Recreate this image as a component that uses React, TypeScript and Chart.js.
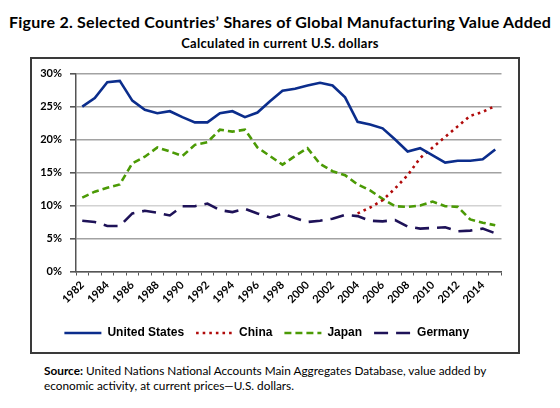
import React, { useEffect, useRef } from "react";
import { Chart, registerables } from "chart.js";

Chart.register(...registerables);

const years: string[] = [
  "1982","1983","1984","1985","1986","1987","1988","1989","1990","1991",
  "1992","1993","1994","1995","1996","1997","1998","1999","2000","2001",
  "2002","2003","2004","2005","2006","2007","2008","2009","2010","2011",
  "2012","2013","2014","2015",
];

const unitedStates: number[] = [
  25.0, 26.3, 28.7, 28.9, 25.9, 24.5, 24.0, 24.3, 23.4, 22.6,
  22.6, 24.0, 24.3, 23.4, 24.1, 25.8, 27.4, 27.7, 28.2, 28.6,
  28.2, 26.4, 22.7, 22.3, 21.7, 20.0, 18.2, 18.7, 17.6, 16.5,
  16.8, 16.8, 17.0, 18.5,
];

const china: (number | null)[] = [
  null, null, null, null, null, null, null, null, null, null,
  null, null, null, null, null, null, null, null, null, null,
  null, null, 8.8, 9.7, 10.8, 12.6, 14.6, 17.2, 18.8, 20.4,
  22.0, 23.6, 24.2, 25.1,
];

const japan: number[] = [
  11.2, 12.1, 12.7, 13.2, 16.4, 17.4, 18.8, 18.2, 17.5, 19.2,
  19.6, 21.5, 21.2, 21.5, 18.8, 17.5, 16.2, 17.5, 18.7, 16.3,
  15.2, 14.6, 13.2, 12.3, 11.0, 9.9, 9.8, 10.0, 10.6, 9.9,
  9.8, 7.9, 7.4, 7.0,
];

const germany: number[] = [
  7.7, 7.5, 6.9, 6.9, 8.8, 9.2, 8.9, 8.5, 9.9, 9.9,
  10.3, 9.3, 9.0, 9.5, 8.8, 8.2, 8.8, 8.1, 7.5, 7.7,
  8.0, 8.6, 8.4, 7.7, 7.6, 7.8, 6.8, 6.5, 6.6, 6.7,
  6.1, 6.2, 6.5, 5.8,
];

const yTicks: number[] = [0, 5, 10, 15, 20, 25, 30];

const title = "Figure 2. Selected Countries\u2019 Shares of Global Manufacturing Value Added";
const subtitle = "Calculated in current U.S. dollars";
const sourceLabel = "Source:";
const sourceText =
  " United Nations National Accounts Main Aggregates Database, value added by economic activity, at current prices\u2014U.S. dollars.";

export default function App() {
  const canvasRef = useRef<HTMLCanvasElement | null>(null);

  useEffect(() => {
    if (!canvasRef.current) return;
    const chart = new Chart(canvasRef.current, {
      type: "line",
      data: {
        labels: years,
        datasets: [
          {
            label: "United States",
            data: unitedStates,
            borderColor: "#0b2d8c",
            backgroundColor: "#0b2d8c",
            borderWidth: 2.6,
            pointRadius: 0,
            tension: 0,
          },
          {
            label: "China",
            data: china,
            borderColor: "#b00a0a",
            backgroundColor: "#b00a0a",
            borderWidth: 2.6,
            borderDash: [2.6, 4],
            pointRadius: 0,
            tension: 0,
            spanGaps: false,
          },
          {
            label: "Japan",
            data: japan,
            borderColor: "#4b9a05",
            backgroundColor: "#4b9a05",
            borderWidth: 2.6,
            borderDash: [7, 4],
            pointRadius: 0,
            tension: 0,
          },
          {
            label: "Germany",
            data: germany,
            borderColor: "#1e1258",
            backgroundColor: "#1e1258",
            borderWidth: 2.6,
            borderDash: [14, 8],
            pointRadius: 0,
            tension: 0,
          },
        ],
      },
      options: {
        animation: false,
        responsive: false,
        maintainAspectRatio: false,
        layout: { padding: { left: 0, top: 12, right: 16.5, bottom: 3 } },
        plugins: {
          title: { display: false },
          tooltip: { enabled: false },
          legend: {
            display: true,
            position: "bottom",
            labels: {
              usePointStyle: true,
              pointStyle: "line",
              pointStyleWidth: 37,
              padding: 12,
              color: "#000",
              font: { family: "'Liberation Sans', Arial, sans-serif", size: 12, weight: "bold" },
              generateLabels: (c: any) => {
                const items = (Chart as any).defaults.plugins.legend.labels.generateLabels(c);
                items.forEach((it: any) => {
                  const ds: any = c.data.datasets[it.datasetIndex];
                  it.lineDash = ds.borderDash || [];
                  it.lineWidth = ds.borderWidth;
                  it.strokeStyle = ds.borderColor;
                  it.fillStyle = ds.borderColor;
                  it.pointStyle = "line";
                });
                return items;
              },
            },
          },
        },
        scales: {
          x: {
            type: "category",
            offset: true,
            afterFit: (s: any) => {
              s.height = 43.5;
            },
            grid: {
              offset: true,
              drawOnChartArea: false,
              drawTicks: true,
              tickLength: 4,
              color: "#555",
              tickColor: "#555",
            },
            border: { display: true, color: "#555", width: 1.5 },
            ticks: {
              autoSkip: false,
              minRotation: 45,
              maxRotation: 45,
              padding: 3,
              color: "#000",
              font: { family: "Lato, sans-serif", size: 11, weight: "bold" },
              callback: (_v: any, i: number) => (i % 2 === 0 ? years[i] : ""),
            },
          },
          y: {
            min: 0,
            max: 30,
            afterFit: (s: any) => {
              s.width = 44;
            },
            afterBuildTicks: (s: any) => {
              s.ticks = yTicks.map((v) => ({ value: v }));
            },
            grid: {
              drawTicks: true,
              tickLength: 6,
              lineWidth: 1.6,
              color: (ctx: any) => (ctx.tick && ctx.tick.value === 10 ? "#d2d2d2" : "#a2a2a2"),
              tickColor: "#555",
            },
            border: { display: true, color: "#555", width: 1.5 },
            ticks: {
              padding: 8,
              color: "#000",
              font: { family: "Lato, sans-serif", size: 11, weight: "bold" },
              callback: (v: any) => v + "%",
            },
          },
        },
      },
    });
    return () => chart.destroy();
  }, []);

  return (
    <div
      style={{
        position: "absolute",
        left: 0,
        top: 0,
        width: 560,
        height: 408,
        background: "#fff",
        fontFamily: "Lato, sans-serif",
        color: "#000",
      }}
    >
      <div
        style={{
          position: "absolute",
          left: 0,
          top: 12,
          width: 560,
          textAlign: "center",
          fontSize: 16,
          letterSpacing: "0.25px",
          lineHeight: "19px",
          fontWeight: 700,
          whiteSpace: "nowrap",
        }}
      >
        {title}
      </div>
      <div
        style={{
          position: "absolute",
          left: 0,
          top: 35,
          width: 560,
          textAlign: "center",
          fontSize: 13,
          letterSpacing: "0.3px",
          lineHeight: "17px",
          fontWeight: 700,
          whiteSpace: "nowrap",
        }}
      >
        {subtitle}
      </div>
      <div
        style={{
          position: "absolute",
          left: 30,
          top: 57,
          width: 490,
          height: 297,
          boxSizing: "border-box",
          border: "2px solid #3a3a3a",
        }}
      >
        <canvas
          ref={canvasRef}
          width={486}
          height={293}
          style={{ position: "absolute", left: 0, top: 0, width: 486, height: 293 }}
        />
      </div>
      <div
        style={{
          position: "absolute",
          left: 44,
          top: 363,
          width: 470,
          fontSize: 11.8,
          lineHeight: "15px",
        }}
      >
        <b>{sourceLabel}</b>
        {sourceText}
      </div>
    </div>
  );
}
